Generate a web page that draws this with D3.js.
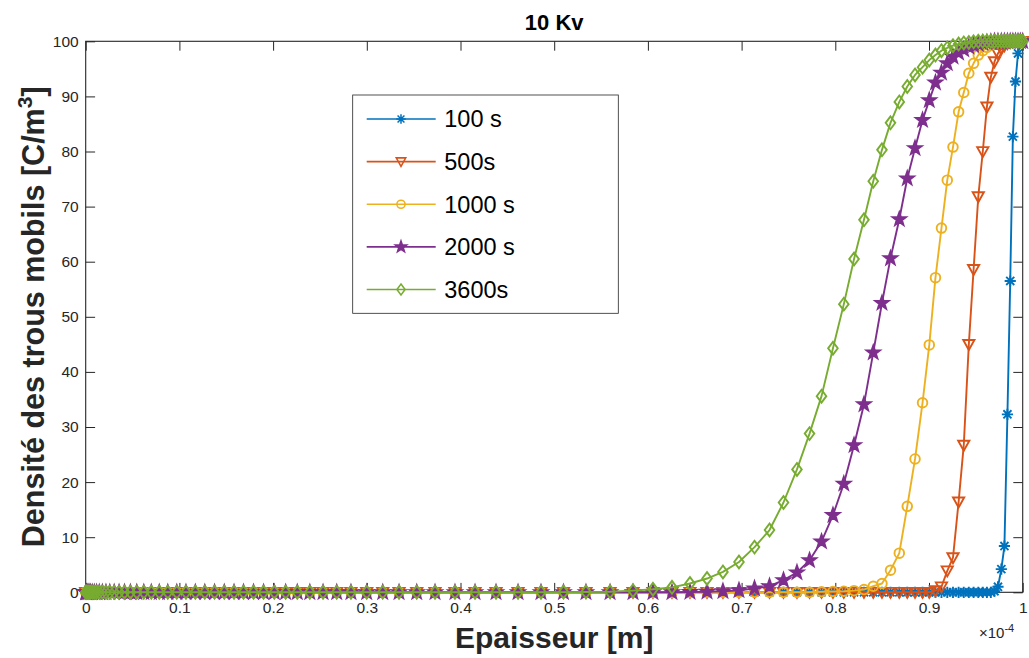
<!DOCTYPE html>
<html>
<head>
<meta charset="utf-8">
<script src="https://cdn.jsdelivr.net/npm/d3@7"></script>
<style>
  body { margin: 0; background: #fff; }
  svg { display: block; }
  text { font-family: "Liberation Sans", Arial, Helvetica, sans-serif; }
</style>
</head>
<body>
<svg id="chart" width="1029" height="658"></svg>
<script>
// Thickness mesh, in units of 1e-4 m (refined near both electrodes)
const thickness = [
  0, 0.0003, 0.0009, 0.0016, 0.0026, 0.0037, 0.0052, 0.0070, 0.0092, 0.0116,
  0.0145, 0.0178, 0.0216, 0.0257, 0.0304, 0.0356, 0.0414, 0.0477, 0.0545, 0.0620,
  0.0700, 0.0785, 0.0876, 0.0972, 0.1070, 0.1170, 0.1271, 0.1375, 0.1479, 0.1583,
  0.1684, 0.1791, 0.1898, 0.2013, 0.2134, 0.2258, 0.2392, 0.2533, 0.2679, 0.2831,
  0.2999, 0.3170, 0.3344, 0.3533, 0.3728, 0.3941, 0.4155, 0.4379, 0.4614, 0.4859,
  0.5099, 0.5339, 0.5596, 0.5841, 0.6054, 0.6257, 0.6449, 0.6631, 0.6801, 0.6972,
  0.7138, 0.7298, 0.7447, 0.7591, 0.7725, 0.7853, 0.7975, 0.8091, 0.8200, 0.8306,
  0.8405, 0.8498, 0.8589, 0.8683, 0.8768, 0.8851, 0.8931, 0.9003, 0.9069, 0.9133,
  0.9195, 0.9256, 0.9316, 0.9371, 0.9425, 0.9476, 0.9526, 0.9574, 0.9618, 0.9660,
  0.9699, 0.9736, 0.9772, 0.9805, 0.9837, 0.9867, 0.9895, 0.9923, 0.9950, 0.9975,
  1.0
];

// Mobile hole density [C/m^3] at each mesh node
const rho100 = [
  0, 0, 0, 0, 0, 0, 0, 0, 0, 0,
  0, 0, 0, 0, 0, 0, 0, 0, 0, 0,
  0, 0, 0, 0, 0, 0, 0, 0, 0, 0,
  0, 0, 0, 0, 0, 0, 0, 0, 0, 0,
  0, 0, 0, 0, 0, 0, 0, 0, 0, 0,
  0, 0, 0, 0, 0, 0, 0, 0, 0, 0,
  0, 0, 0, 0, 0, 0, 0, 0, 0, 0,
  0, 0, 0, 0, 0, 0, 0, 0, 0, 0,
  0, 0, 0, 0, 0, 0, 0, 0, 0, 0,
  0.2, 1.0, 4.2, 8.4, 32.3, 56.5, 82.7, 92.7, 97.8, 99.6,
  100
];
const rho500 = [
  0, 0, 0, 0, 0, 0, 0, 0, 0, 0,
  0, 0, 0, 0, 0, 0, 0, 0, 0, 0,
  0, 0, 0, 0, 0, 0, 0, 0, 0, 0,
  0, 0, 0, 0, 0, 0, 0, 0, 0, 0,
  0, 0, 0, 0, 0, 0, 0, 0, 0, 0,
  0, 0, 0, 0, 0, 0, 0, 0, 0, 0,
  0, 0, 0, 0, 0, 0, 0, 0, 0, 0,
  0, 0, 0, 0, 0, 0, 0, 0, 0.3, 1.0,
  3.9, 6.3, 16.4, 26.7, 45.0, 58.6, 71.8, 80.0, 88.1, 93.5,
  96.3, 97.8, 98.6, 99.2, 99.6, 99.8, 100, 100, 100, 100,
  100
];
const rho1000 = [
  0, 0, 0, 0, 0, 0, 0, 0, 0, 0,
  0, 0, 0, 0, 0, 0, 0, 0, 0, 0,
  0, 0, 0, 0, 0, 0, 0, 0, 0, 0,
  0, 0, 0, 0, 0, 0, 0, 0, 0, 0,
  0, 0, 0, 0, 0, 0, 0, 0, 0, 0,
  0, 0, 0, 0, 0, 0, 0, 0, 0, 0,
  0, 0, 0, 0, 0, 0.1, 0.15, 0.2, 0.3, 0.5,
  1.1, 1.6, 4.0, 7.1, 15.6, 24.2, 34.4, 44.9, 57.1, 66.1,
  74.8, 80.8, 87.2, 90.7, 94.2, 96.0, 97.5, 98.3, 98.9, 99.3,
  99.6, 99.8, 99.9, 100, 100, 100, 100, 100, 100, 100,
  100
];
const rho2000 = [
  0, 0, 0, 0, 0, 0, 0, 0, 0, 0,
  0, 0, 0, 0, 0, 0, 0, 0, 0, 0,
  0, 0, 0, 0, 0, 0, 0, 0, 0, 0,
  0, 0, 0, 0, 0, 0, 0, 0, 0, 0,
  0, 0, 0, 0, 0, 0, 0, 0, 0, 0,
  0, 0, 0, 0, 0, 0, 0.05, 0.1, 0.2, 0.35,
  0.7, 1.1, 2.2, 3.6, 5.8, 9.2, 14.0, 19.7, 26.7, 34.1,
  43.5, 52.5, 60.6, 67.7, 75.1, 80.6, 85.7, 89.3, 92.5, 94.3,
  96.0, 97.2, 97.9, 98.5, 99.0, 99.3, 99.5, 99.7, 99.8, 99.9,
  100, 100, 100, 100, 100, 100, 100, 100, 100, 100,
  100
];
const rho3600 = [
  0, 0, 0, 0, 0, 0, 0, 0, 0, 0,
  0, 0, 0, 0, 0, 0, 0, 0, 0, 0,
  0, 0, 0, 0, 0, 0, 0, 0, 0, 0,
  0, 0, 0, 0, 0, 0, 0, 0, 0, 0,
  0, 0, 0, 0, 0, 0, 0, 0, 0, 0.02,
  0.04, 0.06, 0.1, 0.3, 0.55, 0.9, 1.6, 2.5, 3.7, 5.5,
  8.2, 11.3, 16.3, 22.3, 28.8, 35.6, 44.3, 52.3, 60.5, 67.6,
  74.6, 80.3, 85.2, 89.0, 91.8, 93.9, 95.3, 96.6, 97.5, 98.3,
  98.8, 99.2, 99.5, 99.7, 99.8, 99.9, 100, 100, 100, 100,
  100, 100, 100, 100, 100, 100, 100, 100, 100, 100,
  100
];

const seriesLabels = ["100 s", "500s", "1000 s", "2000 s", "3600s"];
const seriesValues = [rho100, rho500, rho1000, rho2000, rho3600];
const seriesColors = ["#0072BD", "#D95319", "#EDB120", "#7E2F8E", "#77AC30"];
const seriesMarkers = ["asterisk", "triangleDown", "circle", "pentagram", "diamond"];

const xTickValues = [0, 0.1, 0.2, 0.3, 0.4, 0.5, 0.6, 0.7, 0.8, 0.9, 1];
const xTickLabels = ["0", "0.1", "0.2", "0.3", "0.4", "0.5", "0.6", "0.7", "0.8", "0.9", "1"];
const yTickValues = [0, 10, 20, 30, 40, 50, 60, 70, 80, 90, 100];

const chartTitle = "10 Kv";
const xAxisTitle = "Epaisseur [m]";

// ---- layout ----
const W = 1029, H = 658;
const plot = { left: 85.7, right: 1022.7, top: 41.3, bottom: 592.3 };
const axisColor = "#262626";
const tickLen = 9.4;
const strokeW = 1.9;

const svg = d3.select("#chart");
const x = d3.scaleLinear().domain([0, 1]).range([plot.left, plot.right]);
const y = d3.scaleLinear().domain([0, 100]).range([plot.bottom, plot.top]);

svg.append("rect").attr("width", W).attr("height", H).attr("fill", "#fff");

// marker path generators (centered at 0,0)
function markerPath(kind) {
  switch (kind) {
    case "asterisk": {
      const r = 5.6, d = r * 0.72;
      return `M${-r},0L${r},0M0,${-r}L0,${r}M${-d},${-d}L${d},${d}M${-d},${d}L${d},${-d}`;
    }
    case "triangleDown":
      return "M-5.6,-4.4L5.6,-4.4L0,5.6Z";
    case "circle": {
      const r = 4.8;
      return `M${r},0A${r},${r} 0 1,1 ${-r},0A${r},${r} 0 1,1 ${r},0Z`;
    }
    case "pentagram": {
      const R = 7, rIn = 2.8;
      let p = "";
      for (let k = 0; k < 10; k++) {
        const rad = k % 2 === 0 ? R : rIn;
        const a = -Math.PI / 2 + k * Math.PI / 5;
        p += (k === 0 ? "M" : "L") + (rad * Math.cos(a)).toFixed(2) + "," + (rad * Math.sin(a)).toFixed(2);
      }
      return p + "Z";
    }
    case "diamond":
      return "M0,-6.4L4.8,0L0,6.4L-4.8,0Z";
  }
}
const markerFill = { pentagram: true };

// ---- box + ticks ----
const gAxes = svg.append("g");

const xAxisB = d3.axisBottom(x).tickValues(xTickValues)
  .tickFormat((d, i) => xTickLabels[i]).tickSizeInner(-tickLen).tickSizeOuter(0).tickPadding(10);
const xAxisT = d3.axisTop(x).tickValues(xTickValues).tickFormat("").tickSizeInner(-tickLen).tickSizeOuter(0);
const yAxisL = d3.axisLeft(y).tickValues(yTickValues).tickSizeInner(-tickLen).tickSizeOuter(0).tickPadding(7);
const yAxisR = d3.axisRight(y).tickValues(yTickValues).tickFormat("").tickSizeInner(-tickLen).tickSizeOuter(0);

function styleAxis(g) {
  g.select(".domain").remove();
  g.selectAll(".tick line").attr("stroke", axisColor).attr("stroke-width", 1);
  g.selectAll(".tick text").attr("fill", axisColor).attr("font-size", 15.5)
    .attr("font-family", '"Liberation Sans", Arial, Helvetica, sans-serif');
}

gAxes.append("g").attr("transform", `translate(0,${plot.bottom})`).call(xAxisB).call(styleAxis);
gAxes.append("g").attr("transform", `translate(0,${plot.top})`).call(xAxisT).call(styleAxis);
gAxes.append("g").attr("transform", `translate(${plot.left},0)`).call(yAxisL).call(styleAxis);
gAxes.append("g").attr("transform", `translate(${plot.right},0)`).call(yAxisR).call(styleAxis);

gAxes.append("rect")
  .attr("x", plot.left).attr("y", plot.top)
  .attr("width", plot.right - plot.left).attr("height", plot.bottom - plot.top)
  .attr("fill", "none").attr("stroke", axisColor).attr("stroke-width", 1.1);

// ---- series ----
const line = d3.line().x(d => x(d[0])).y(d => y(d[1]));
const gSeries = svg.append("g");
seriesValues.forEach((vals, s) => {
  const pts = thickness.map((t, i) => [t, vals[i]]);
  const g = gSeries.append("g");
  g.append("path").attr("d", line(pts))
    .attr("fill", "none").attr("stroke", seriesColors[s]).attr("stroke-width", strokeW)
    .attr("stroke-linejoin", "round");
  g.selectAll("path.mk").data(pts).enter().append("path").attr("class", "mk")
    .attr("d", markerPath(seriesMarkers[s]))
    .attr("transform", d => `translate(${x(d[0])},${y(d[1])})`)
    .attr("fill", markerFill[seriesMarkers[s]] ? seriesColors[s] : "none")
    .attr("stroke", seriesColors[s]).attr("stroke-width", strokeW)
    .attr("stroke-linejoin", "miter");
});

// ---- x exponent ----
const expo = svg.append("text").attr("x", 979).attr("y", 638)
  .attr("font-size", 15).attr("fill", axisColor);
expo.append("tspan").text("\u00d710");
expo.append("tspan").attr("dy", -6).attr("font-size", 11).text("-4");

// ---- titles ----
svg.append("text").attr("x", (plot.left + plot.right) / 2).attr("y", 30)
  .attr("text-anchor", "middle").attr("font-weight", "bold").attr("font-size", 22)
  .attr("fill", "#000").text(chartTitle);

svg.append("text").attr("x", (plot.left + plot.right) / 2).attr("y", 648)
  .attr("text-anchor", "middle").attr("font-weight", "bold").attr("font-size", 30)
  .attr("fill", axisColor).text(xAxisTitle);

const yTitle = svg.append("text")
  .attr("transform", `translate(44,${(plot.top + plot.bottom) / 2}) rotate(-90)`)
  .attr("text-anchor", "middle").attr("font-weight", "bold").attr("font-size", 30.5)
  .attr("fill", axisColor);
yTitle.append("tspan").text("Densit\u00e9 des trous mobils [C/m");
yTitle.append("tspan").attr("dy", -12).attr("font-size", 21).text("3");
yTitle.append("tspan").attr("dy", 12).text("]");

// ---- legend ----
const lg = svg.append("g");
const lgBox = { x: 352.7, y: 95, w: 265.6, h: 218.3 };
lg.append("rect").attr("x", lgBox.x).attr("y", lgBox.y).attr("width", lgBox.w).attr("height", lgBox.h)
  .attr("fill", "#fff").attr("stroke", axisColor).attr("stroke-width", 0.8);
const rowY = d3.scaleLinear().domain([0, 4]).range([119, 289.5]);
seriesLabels.forEach((lab, s) => {
  const cy = rowY(s);
  lg.append("line").attr("x1", 366.7).attr("x2", 435.7).attr("y1", cy).attr("y2", cy)
    .attr("stroke", seriesColors[s]).attr("stroke-width", 1.6);
  lg.append("path").attr("d", markerPath(seriesMarkers[s]))
    .attr("transform", `translate(401,${cy}) scale(0.85)`)
    .attr("fill", markerFill[seriesMarkers[s]] ? seriesColors[s] : "none")
    .attr("stroke", seriesColors[s]).attr("stroke-width", 1.8);
  lg.append("text").attr("x", 444.3).attr("y", cy).attr("dy", "0.36em")
    .attr("font-size", 23.5).attr("fill", "#000").text(lab);
});
</script>
</body>
</html>
